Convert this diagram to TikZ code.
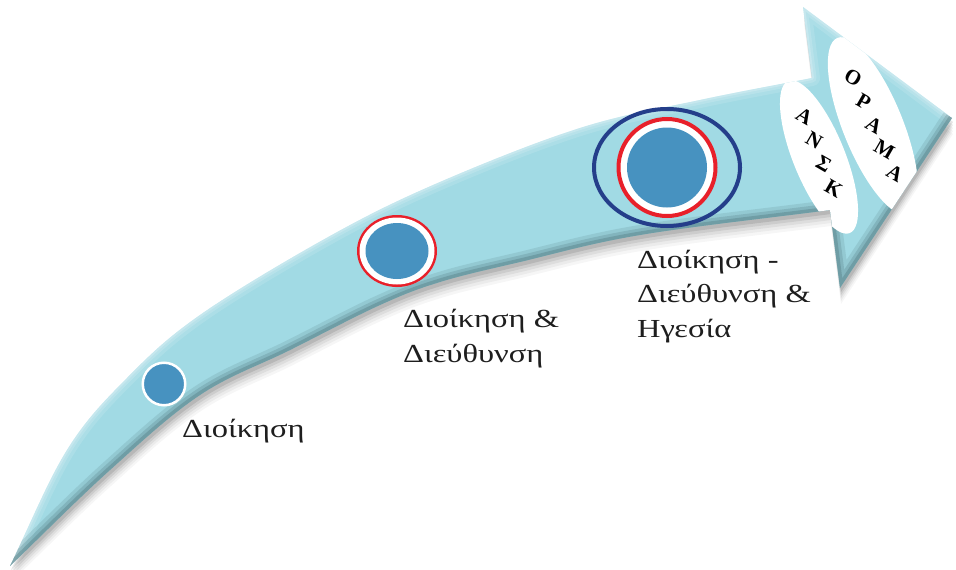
\documentclass[tikz,border=0pt]{standalone}
\usepackage{fontspec}
\setmainfont[FakeStretch=1.25]{Liberation Serif}
\newfontfamily\badgefont{Liberation Serif}
\usetikzlibrary{calc}

\definecolor{shaftfill}{RGB}{161,218,228}
\definecolor{shaftedge}{RGB}{62,100,106}
\definecolor{dotblue}{RGB}{71,146,192}
\definecolor{ringred}{RGB}{232,32,42}
\definecolor{ringnavy}{RGB}{36,62,138}
\definecolor{labelink}{RGB}{30,30,30}

% upper side of the shaft, from the tail to the head
\def\ArrowUpper{.. controls (29,527) and (47.5,481.3) .. (67,450)
    .. controls (86.5,418.7) and (104.8,400.5) .. (127,378)
    .. controls (149.2,355.5) and (166.2,338.7) .. (200,315)
    .. controls (233.8,291.3) and (290,258.2) .. (330,236)
    .. controls (370,213.8) and (398.3,200) .. (440,182)
    .. controls (481.7,164) and (536.7,141.7) .. (580,128)
    .. controls (623.3,114.3) and (661.3,108.3) .. (700,100)
    .. controls (738.7,91.7) and (774.7,85.3) .. (812,78)}
% lower side of the shaft, from the head back to the tail
\def\ArrowLower{.. controls (766.7,218.3) and (691.7,226.3) .. (640,235)
    .. controls (588.3,243.7) and (553.3,254.2) .. (520,262)
    .. controls (486.7,269.8) and (463.3,274.8) .. (440,282)
    .. controls (416.7,289.2) and (405,293.7) .. (380,305)
    .. controls (355,316.3) and (320,335) .. (290,350)
    .. controls (260,365) and (230,375) .. (200,395)
    .. controls (170,415) and (141.7,441.5) .. (110,470)
    .. controls (78.3,498.5) and (43.3,534) .. (10,566)}
% the whole arrow
\def\ArrowOutline{(10,566) \ArrowUpper -- (803,7) -- (952,118)
    -- (840,288) -- (830,210) \ArrowLower -- cycle}

\tikzset{
  stagelabel/.style={anchor=base west, inner sep=0pt, align=left, text=labelink,
    font=\fontsize{26}{34.5}\selectfont},
  badgeletter/.style={inner sep=0pt, text=black, rotate=-30,
    font=\badgefont\bfseries\fontsize{21}{24}\selectfont},
}

\begin{document}
\begin{tikzpicture}[x=1pt, y=-1pt]
\useasboundingbox (0,0) rectangle (956,570);

% soft drop shadow: stacked, slightly offset copies of the outline
\begin{scope}[shift={(1,16)}]\fill[black, opacity=0.035] \ArrowOutline;\end{scope}
\begin{scope}[shift={(1,13)}]\fill[black, opacity=0.045] \ArrowOutline;\end{scope}
\begin{scope}[shift={(1,10)}]\fill[black, opacity=0.06] \ArrowOutline;\end{scope}
\begin{scope}[shift={(1,7)}]\fill[black, opacity=0.08] \ArrowOutline;\end{scope}
\begin{scope}[shift={(1,4)}]\fill[black, opacity=0.10] \ArrowOutline;\end{scope}

% arrow body
\fill[shaftfill] \ArrowOutline;

\begin{scope}
  \clip \ArrowOutline;
  % light rim along the upper side
  \foreach \w/\op in {16/0.12, 9/0.15, 4/0.2} {
    \draw[white, opacity=\op, line width=\w pt, line join=round]
      (10,566) \ArrowUpper -- (803,7) -- (952,118);
  }
  % darker rim along the lower side
  \foreach \w/\op in {20/0.14, 13/0.2, 7/0.28} {
    \draw[shaftedge, opacity=\op, line width=\w pt, line join=round]
      (952,118) -- (840,288) -- (830,210) \ArrowLower;
  }
  % white badges on the arrow head
  \fill[white, rotate around={22:(819,157)}] (819,157) ellipse [x radius=26, y radius=82];
  \fill[white, rotate around={22:(873,126)}] (873,126) ellipse [x radius=30, y radius=95];
\end{scope}

% badge lettering, one letter after another down each badge
\foreach \c [count=\k] in {Α,Ν,Σ,Κ} {
  \node[badgeletter] (ansk\k) at ($(819,152)+({(\k-2.5)*9.74},{(\k-2.5)*24.1})$) {\c};
}
\foreach \c [count=\k] in {Ο,Ρ,Α,Μ,Α} {
  \node[badgeletter] (orama\k) at ($(874,125.5)+({(\k-3)*10.4},{(\k-3)*23.8})$) {\c};
}

% stage markers
\node[circle, fill=dotblue, draw=white, line width=2.5pt, minimum size=42.5pt,
  inner sep=0pt] (stage1) at (164,384) {};

\coordinate (stage2) at (397,251);
\fill[ringred] (stage2) ellipse [x radius=40, y radius=36];
\fill[white] (stage2) ellipse [x radius=37.5, y radius=33.5];
\fill[dotblue] (stage2) ellipse [x radius=31.5, y radius=28];

\coordinate (stage3) at (667,167.5);
\draw[ringnavy, line width=4pt] (stage3) ellipse [x radius=73, y radius=58.5];
\fill[white] (stage3) circle [radius=47];
\draw[ringred, line width=4pt] (stage3) circle [radius=48.5];
\fill[dotblue] (stage3) circle [radius=40];

% stage labels (the base anchor sits on the last line)
\node[stagelabel] (label1) at (182,437) {Διοίκηση};
\node[stagelabel] (label2) at (403,362) {Διοίκηση \&\\Διεύθυνση};
\node[stagelabel] (label3) at (637,337) {Διοίκηση -\\Διεύθυνση \&\\Ηγεσία};
\end{tikzpicture}
\end{document}
